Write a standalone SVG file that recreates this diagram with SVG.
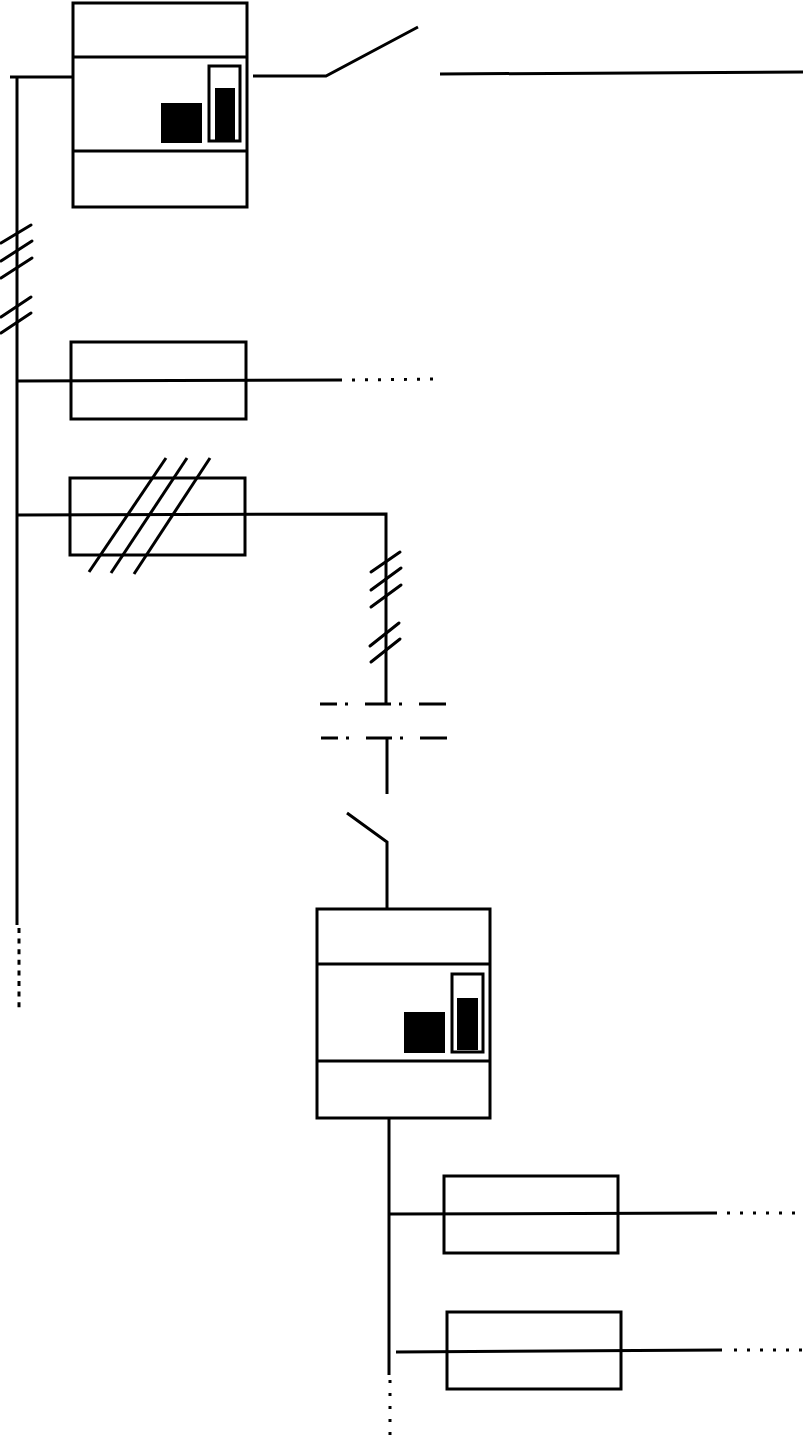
<svg xmlns="http://www.w3.org/2000/svg" width="803" height="1442" viewBox="0 0 803 1442">
<style>
.ln{stroke:#000;stroke-width:3;fill:none;stroke-linecap:butt}
.tk{stroke:#000;stroke-width:3;fill:none;stroke-linecap:round}
.bx{stroke:#000;stroke-width:3;fill:#fff}
.blk{fill:#000}
.dot{stroke:#000;stroke-width:3;fill:none;stroke-dasharray:3,10}
.vdot{stroke:#000;stroke-width:3;fill:none;stroke-dasharray:5,5.6}
.dd{stroke:#000;stroke-width:3;fill:none;stroke-dasharray:17,8,3,17,26,8,3,17,28}
</style>
<rect width="803" height="1442" fill="#fff"/>
<g id="connectors">
  <!-- left bus -->
  <polyline class="ln" points="10,77 72,77"/>
  <line class="ln" x1="17" y1="76" x2="17" y2="925"/>
  <line class="vdot" x1="19" y1="928" x2="19" y2="1010"/>
  <line class="tk" x1="1" y1="243" x2="31" y2="225"/>
  <line class="tk" x1="1" y1="261" x2="32" y2="241"/>
  <line class="tk" x1="1" y1="278" x2="32" y2="258"/>
  <line class="tk" x1="1" y1="317" x2="31" y2="297"/>
  <line class="tk" x1="1" y1="333" x2="31" y2="313"/>
  <!-- top switch and line -->
  <polyline class="ln" points="253,76 326,76 418,27"/>
  <line class="ln" x1="440" y1="74" x2="803" y2="72"/>
  <!-- fuse 1 line -->
  <line class="ln" x1="17" y1="381" x2="342" y2="380"/>
  <line class="dot" x1="352" y1="380" x2="440" y2="379"/>
  <!-- fuse 2 line -->
  <polyline class="ln" points="17,515 386,514 386,703"/>
  <line class="tk" x1="371" y1="572" x2="400" y2="552"/>
  <line class="tk" x1="371" y1="590" x2="401" y2="568"/>
  <line class="tk" x1="371" y1="607" x2="401" y2="585"/>
  <line class="tk" x1="370" y1="646" x2="399" y2="623"/>
  <line class="tk" x1="371" y1="662" x2="400" y2="639"/>
  <!-- dash-dot lines -->
  <line class="dd" x1="320" y1="704" x2="446" y2="704"/>
  <line class="dd" x1="321" y1="738" x2="447" y2="738"/>
  <line class="ln" x1="387" y1="738" x2="387" y2="794"/>
  <!-- lower switch -->
  <polyline class="ln" points="347,813 387,842 387,909"/>
  <!-- lower bus -->
  <line class="ln" x1="389" y1="1118" x2="389" y2="1375"/>
  <line class="vdot" x1="390" y1="1380" x2="390" y2="1440" style="stroke-dasharray:3,10"/>
  <line class="ln" x1="389" y1="1214" x2="717" y2="1213"/>
  <line class="dot" x1="727" y1="1213" x2="803" y2="1213"/>
  <line class="ln" x1="396" y1="1352" x2="722" y2="1350"/>
  <line class="dot" x1="734" y1="1350" x2="803" y2="1350"/>
</g>
<g id="meter1">
  <rect class="bx" x="73" y="3" width="174" height="204"/>
  <line class="ln" x1="73" y1="57" x2="247" y2="57"/>
  <line class="ln" x1="73" y1="151" x2="247" y2="151"/>
  <rect class="blk" x="161" y="103" width="41" height="40"/>
  <rect class="bx" x="209" y="66" width="31" height="75"/>
  <rect class="blk" x="215" y="88" width="20" height="52"/>
</g>
<g id="fuse1">
  <rect x="71" y="342" width="175" height="77" class="ln"/>
</g>
<g id="fuse2">
  <rect x="70" y="478" width="175" height="77" class="ln"/>
  <line class="ln" x1="89" y1="572" x2="166" y2="458"/>
  <line class="ln" x1="111" y1="573" x2="187" y2="458"/>
  <line class="ln" x1="134" y1="574" x2="210" y2="458"/>
</g>
<g id="meter2">
  <rect class="bx" x="317" y="909" width="173" height="209"/>
  <line class="ln" x1="317" y1="964" x2="490" y2="964"/>
  <line class="ln" x1="317" y1="1061" x2="490" y2="1061"/>
  <rect class="blk" x="404" y="1012" width="41" height="41"/>
  <rect class="bx" x="452" y="974" width="31" height="78"/>
  <rect class="blk" x="457" y="998" width="21" height="52"/>
</g>
<g id="fuse3">
  <rect x="444" y="1176" width="174" height="77" class="ln"/>
</g>
<g id="fuse4">
  <rect x="447" y="1312" width="174" height="77" class="ln"/>
</g>
</svg>
